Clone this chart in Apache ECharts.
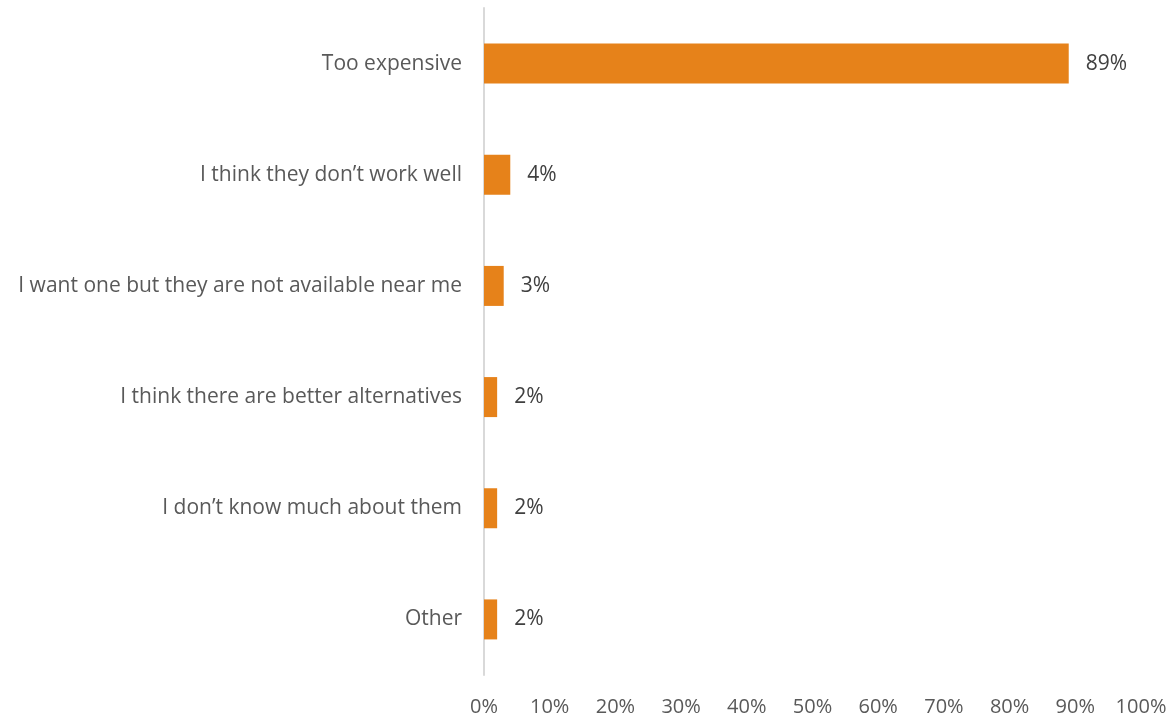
<!DOCTYPE html>
<html>
<head>
<meta charset="utf-8">
<script src="https://cdn.jsdelivr.net/npm/echarts@6/dist/echarts.min.js"></script>
<style>
  html, body { margin: 0; padding: 0; background: #fff; }
  #chart { width: 1176px; height: 721px; }
</style>
</head>
<body>
<div id="chart"></div>
<script>
// Reasons given, listed top to bottom
const reasons = [
  'Too expensive',
  'I think they don\u2019t work well',
  'I want one but they are not available near me',
  'I think there are better alternatives',
  'I don\u2019t know much about them',
  'Other'
];
// Share of respondents (%)
const shares = [89, 4, 3, 2, 2, 2];
// Value axis ticks (%)
const axisMin = 0;
const axisMax = 100;
const axisStep = 10;

const FONT = '"Open Sans", "Noto Sans", sans-serif';

const chart = echarts.init(document.getElementById('chart'), null, { renderer: 'canvas' });
chart.setOption({
  animation: false,
  backgroundColor: '#ffffff',
  grid: { left: 484, right: 35, top: 8, bottom: 46, containLabel: false },
  xAxis: {
    type: 'value',
    min: axisMin,
    max: axisMax,
    interval: axisStep,
    axisLine: { show: false },
    axisTick: { show: false },
    splitLine: { show: false },
    axisLabel: {
      formatter: v => v + '%',
      color: '#595959',
      fontFamily: FONT,
      fontSize: 20,
      margin: 22
    }
  },
  yAxis: {
    type: 'category',
    data: reasons,
    inverse: true,
    axisLine: { show: true, lineStyle: { color: '#D9D9D9', width: 2 } },
    axisTick: { show: false },
    axisLabel: {
      color: '#595959',
      fontFamily: FONT,
      fontSize: 21,
      margin: 22
    }
  },
  series: [{
    type: 'bar',
    data: shares,
    barWidth: 40,
    itemStyle: { color: '#E6821A' },
    label: {
      show: true,
      position: 'right',
      distance: 17,
      formatter: p => p.value + '%',
      color: '#404040',
      fontFamily: FONT,
      fontSize: 21
    }
  }]
});
</script>
</body>
</html>
